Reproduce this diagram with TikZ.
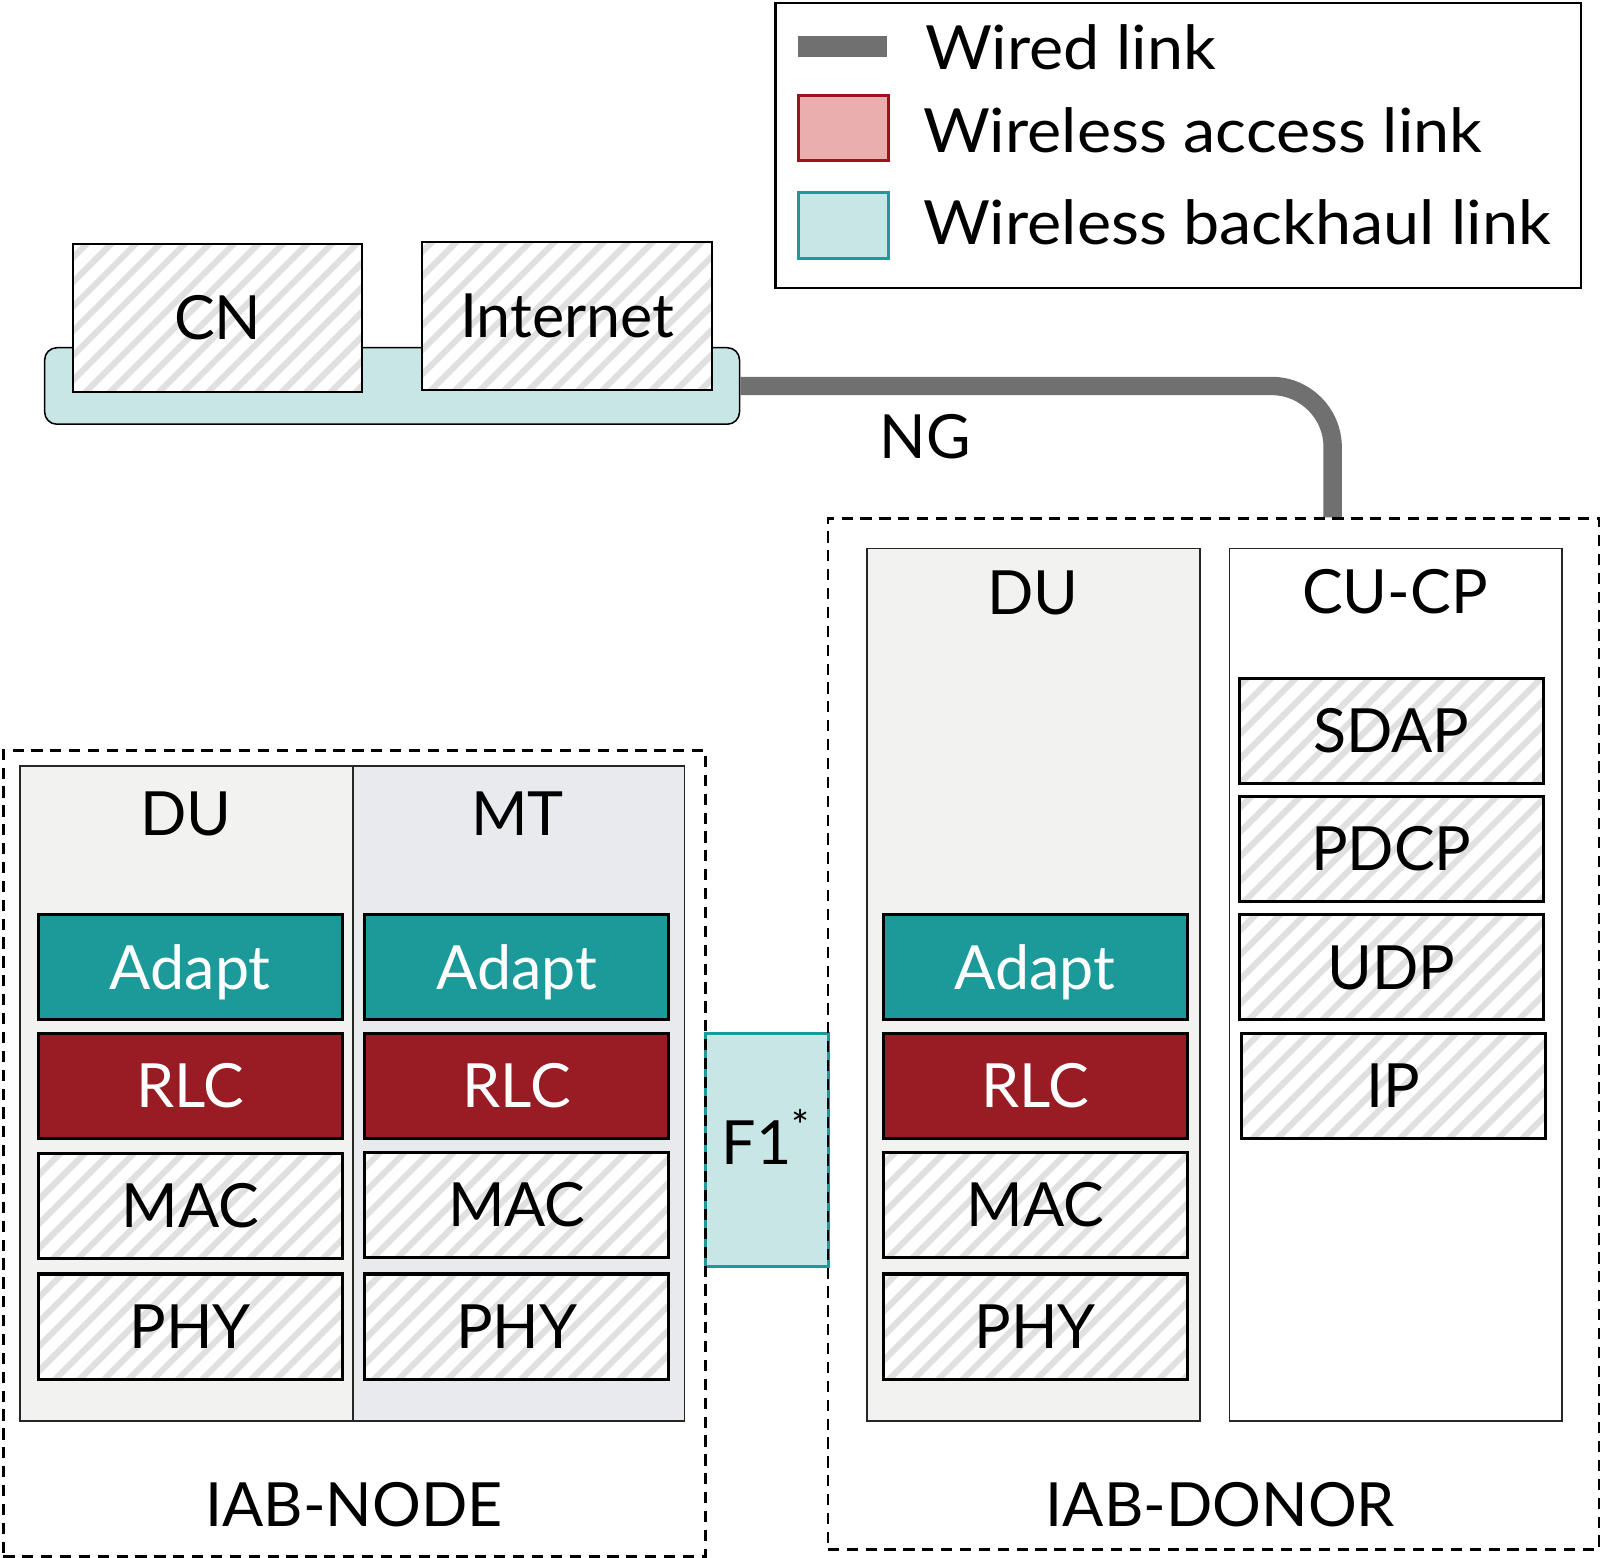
\documentclass[tikz,border=0pt]{standalone}
\usepackage{fontspec}
\setmainfont{Lato}
\newfontfamily\legendfont{Lato}[FakeStretch=1.06]
\usetikzlibrary{positioning,patterns.meta}
\definecolor{adaptteal}{HTML}{1C9A9A}
\definecolor{rlcred}{HTML}{991B23}
\definecolor{bhteal}{HTML}{C7E6E5}
\definecolor{accred}{HTML}{EBAEAF}
\definecolor{accedge}{HTML}{A0121B}
\definecolor{wiredgray}{HTML}{707070}
\definecolor{hatchgray}{HTML}{E0E0E0}
\definecolor{dugray}{HTML}{F2F2F0}
\definecolor{mtgray}{HTML}{E9EAEE}
\newcommand\diagfont{\fontsize{17}{20}\selectfont}

\tikzset{
  txt/.style={font=\diagfont, text height=12.2pt, text depth=0pt, inner sep=0pt, align=center},
  layerbox/.style={txt, draw, line width=0.3mm, minimum width=29.8mm, minimum height=10.3mm, anchor=north west},
  adapt/.style={layerbox, fill=adaptteal, text=white},
  rlc/.style={layerbox, fill=rlcred, text=white},
  hatched/.style={preaction={fill=white}, pattern={Lines[angle=45,distance=1.7mm,line width=0.6mm]}, pattern color=hatchgray},
  proto/.style={layerbox, hatched},
  column/.style={draw=black!85, line width=0.15mm, inner sep=0pt, anchor=north west},
  dashbox/.style={draw, dash pattern=on 1.1mm off 0.75mm, line width=0.25mm, inner sep=0pt, anchor=north west},
  wired/.style={draw=wiredgray, line width=1.8mm, rounded corners=6mm},
  swatch/.style={inner sep=0pt, minimum width=8.8mm, anchor=north west},
  legtxt/.style={txt, font=\diagfont\legendfont, anchor=west}
}

\begin{document}
\begin{tikzpicture}[x=0.1mm, y=-0.1mm]
    \useasboundingbox (0,0) rectangle (1568,1526);
    % legend
    \node[draw, line width=0.2mm, inner sep=0pt, minimum width=78.9mm, minimum height=27.9mm, anchor=north west] (legend) at (759,2) {};
    \node[swatch, fill=wiredgray, minimum height=2mm] (swwired) at (781,35) {};
    \node[swatch, fill=accred, draw=accedge, line width=0.3mm, minimum height=6.4mm] (swacc) at (781,92) {};
    \node[swatch, fill=bhteal, draw=adaptteal, line width=0.3mm, minimum height=6.5mm] (swbh) at (781,187) {};
    \node[legtxt] (lgwired) at (906,47) {Wired link};
    \node[legtxt] (lgacc) at (904,128) {Wireless access link};
    \node[legtxt] (lgbh) at (904,218) {Wireless backhaul link};

    % core side
    \node[draw, fill=bhteal, line width=0.15mm, rounded corners=1.2mm, inner sep=0pt, minimum width=68.1mm, minimum height=7.5mm, anchor=north west] (bar) at (43,340) {};
    \node[txt, draw, line width=0.2mm, hatched, minimum width=28.3mm, minimum height=14.5mm, anchor=north west] (cn) at (69,236) {CN};
    \node[txt, draw, line width=0.2mm, hatched, minimum width=28.4mm, minimum height=14.5mm, anchor=north west] (inet) at (413,236) {Internet};
    \coordinate (ngend) at (1306,507);
    \draw[wired] (bar.east) -| (ngend);
    \node[txt] (ng) at (907,428) {NG};

    % F1* backhaul
    \node[txt, text depth=1.5mm, fill=bhteal, draw=adaptteal, line width=0.3mm, minimum width=12mm, minimum height=22.9mm, anchor=north west] (fone) at (690,1011) {F1\textsuperscript{*}};

    % IAB node
    \node[column, fill=dugray, minimum width=32.6mm, minimum height=64.2mm] (nodedu) at (19,750) {};
    \node[column, fill=mtgray, minimum width=32.5mm, minimum height=64.2mm] (nodemt) at (345,750) {};
    \node[txt] (nodedulbl) at (182,797) {DU};
    \node[txt] (nodemtlbl) at (507,797) {MT};
    \node[adapt] (nduadapt) at (36,895) {Adapt};
    \node[rlc] (ndurlc) at (36,1011) {RLC};
    \node[proto] (ndumac) at (36,1129) {MAC};
    \node[proto] (nduphy) at (36,1247) {PHY};
    \node[adapt] (nmtadapt) at (356,895) {Adapt};
    \node[rlc] (nmtrlc) at (356,1011) {RLC};
    \node[proto] (nmtmac) at (356,1128) {MAC};
    \node[proto] (nmtphy) at (356,1247) {PHY};
    \node[dashbox, minimum width=68.8mm, minimum height=79mm] (iabnode) at (2,734) {};
    \node[txt] (iabnodelbl) at (347,1475) {IAB-NODE};

    % IAB donor
    \node[column, fill=dugray, minimum width=32.6mm, minimum height=85.5mm] (donordu) at (849,537) {};
    \node[column, fill=white, minimum width=32.6mm, minimum height=85.5mm] (donorcu) at (1204,537) {};
    \node[txt] (donordulbl) at (1012,581) {DU};
    \node[txt] (donorculbl) at (1367,580) {CU-CP};
    \node[adapt] (dduadapt) at (864,895) {Adapt};
    \node[rlc] (ddurlc) at (864,1011) {RLC};
    \node[proto] (ddumac) at (864,1128) {MAC};
    \node[proto] (dduphy) at (864,1247) {PHY};
    \node[proto] (dcusdap) at (1213,663) {SDAP};
    \node[proto] (dcupdcp) at (1213,779) {PDCP};
    \node[proto] (dcuudp) at (1213,895) {UDP};
    \node[proto] (dcuip) at (1215,1011) {IP};
    \node[dashbox, minimum width=75.6mm, minimum height=101mm] (iabdonor) at (810,507) {};
    \node[txt] (iabdonorlbl) at (1196,1475) {IAB-DONOR};
\end{tikzpicture}
\end{document}
